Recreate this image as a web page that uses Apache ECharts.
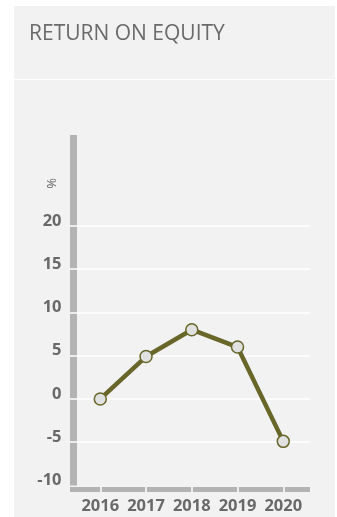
<!DOCTYPE html>
<html>
<head>
<meta charset="utf-8">
<title>Return on Equity</title>
<script src="https://cdn.jsdelivr.net/npm/echarts@6/dist/echarts.min.js"></script>
<style>
  html, body { margin: 0; padding: 0; background: #ffffff; }
  #panel {
    position: absolute; left: 14px; top: 6px; width: 321px; height: 511px;
    background: #f2f2f2;
  }
  #rule {
    position: absolute; left: 14px; top: 79px; width: 322px; height: 1px;
    background: #ffffff;
  }
  #chart { position: absolute; left: 0; top: 0; width: 337px; height: 517px; }
</style>
</head>
<body>
<div id="panel"></div>
<div id="rule"></div>
<div id="chart"></div>
<script>
// Return on equity by year, in percent
const years = [2016, 2017, 2018, 2019, 2020];
const roe = [0, 4.9, 8.0, 6.0, -4.9];
const yTicks = [-10, -5, 0, 5, 10, 15, 20];
const gridTicks = [-5, 0, 5, 10, 15, 20];

const BAR = '#b3b3b3';
const TEXT = '#696969';
const LINE = '#686729';
const FONT = '"Open Sans", "Noto Sans", sans-serif';

const xRange = { min: 2015.338, max: 2020.584 };

const chart = echarts.init(document.getElementById('chart'), null, { renderer: 'canvas' });

chart.setOption({
  backgroundColor: 'transparent',
  animation: false,
  title: {
    text: 'RETURN ON EQUITY',
    left: 24,
    top: 19,
    textStyle: { fontFamily: FONT, fontSize: 21, fontWeight: 'normal', color: '#6b6b6b' }
  },
  graphic: [{
    type: 'text',
    left: 46,
    top: 178,
    rotation: Math.PI / 2,
    style: { text: '%', font: '13px ' + FONT, fill: TEXT }
  }],
  grid: { left: 70, right: 27, top: 135, bottom: 31.5 },
  xAxis: [{
    type: 'value',
    min: xRange.min, max: xRange.max,
    offset: 4,
    axisLine: { show: true, onZero: false, lineStyle: { color: BAR, width: 5, cap: 'butt' } },
    axisTick: { show: false },
    splitLine: { show: false },
    axisLabel: {
      customValues: years,
      margin: 8,
      color: TEXT, fontFamily: FONT, fontWeight: 'bold', fontSize: 16.5,
      formatter: v => String(v)
    }
  }, {
    type: 'value',
    min: xRange.min, max: xRange.max,
    position: 'bottom',
    offset: 1.5,
    axisLine: { show: false, onZero: false },
    axisTick: { show: true, customValues: years, length: 5, lineStyle: { color: '#ffffff', width: 1.5 } },
    axisLabel: { show: false },
    splitLine: { show: false }
  }],
  yAxis: [{
    type: 'value',
    min: -10, max: 30.5,
    offset: -3.5,
    axisLine: { show: true, onZero: false, lineStyle: { color: BAR, width: 7, cap: 'butt' } },
    axisTick: { show: false },
    splitLine: { show: false },
    axisLabel: {
      customValues: yTicks,
      margin: 12,
      color: TEXT, fontFamily: FONT, fontWeight: 'bold', fontSize: 16.5,
      verticalAlign: 'bottom',
      lineHeight: 16,
      padding: [0, 0, -3, 0],
      formatter: v => String(v)
    }
  }, {
    type: 'value',
    min: -10, max: 30.5,
    position: 'left',
    offset: 0,
    axisLine: { show: false, onZero: false },
    axisTick: {
      show: true, inside: true, customValues: gridTicks, length: 240,
      lineStyle: { color: '#ffffff', width: 1.5 }
    },
    axisLabel: { show: false },
    splitLine: { show: false }
  }],
  series: [{
    type: 'line',
    data: years.map((y, i) => [y, roe[i]]),
    symbol: 'circle',
    symbolSize: 12,
    lineStyle: { color: LINE, width: 4.5 },
    itemStyle: { color: '#e1e1e1', borderColor: LINE, borderWidth: 1.5 },
    z: 5
  }]
});
</script>
</body>
</html>
